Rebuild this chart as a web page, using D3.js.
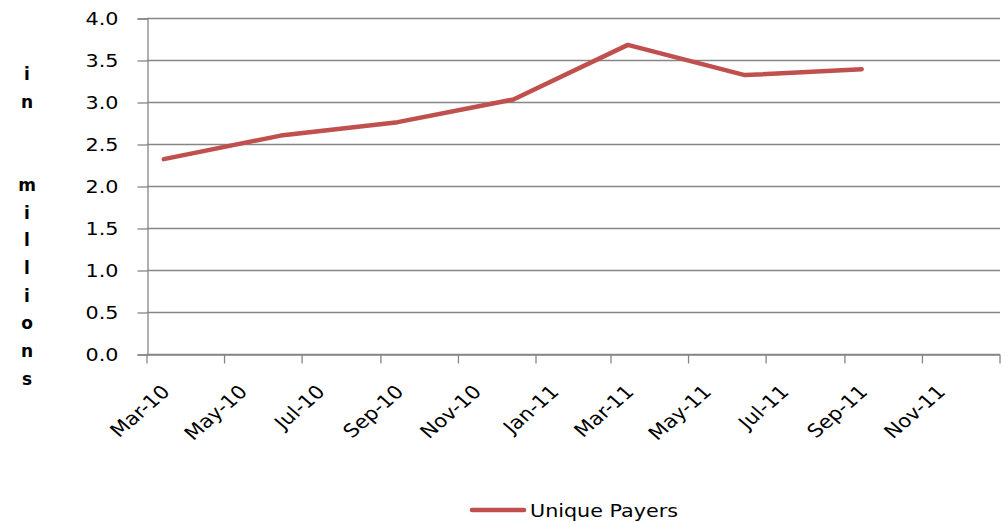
<!DOCTYPE html>
<html>
<head>
<meta charset="utf-8">
<script src="https://cdn.jsdelivr.net/npm/d3@7"></script>
<style>
  html, body { margin: 0; padding: 0; background: #fff; }
  svg { display: block; }
</style>
</head>
<body>
<svg id="chart" width="1005" height="522"></svg>
<script>
// ---- data ----
const dates = ["2010-03-15", "2010-06-15", "2010-09-15", "2010-12-15", "2011-03-15", "2011-06-15", "2011-09-15"];
const values = [2.32, 2.60, 2.76, 3.03, 3.68, 3.32, 3.39];
const seriesName = "Unique Payers";
const yTicks = [0, 0.5, 1.0, 1.5, 2.0, 2.5, 3.0, 3.5, 4.0];
const xDomain = ["2010-03-01", "2012-01-01"];
const yLabelLines = ["i", "n", "", "", "m", "i", "l", "l", "i", "o", "n", "s"];

(function () {
// ---- setup ----
const parse = d3.utcParse("%Y-%m-%d");
const fmt = d3.utcFormat("%b-%y");
const svg = d3.select("#chart");
const FONT = "'DejaVu Sans', sans-serif";
const SX = 1.15;
const axisColor = "#868686";
const lineColor = "#c0504d";

const pLeft = 147, pRight = 1000, pTop = 18, pBottom = 354;
const x = d3.scaleUtc().domain(xDomain.map(parse)).range([pLeft - 1, pRight - 1]);
const y = d3.scaleLinear().domain([0, 4]).range([pBottom, pTop]);

// gridlines
svg.append("g")
  .selectAll("line").data(yTicks).join("line")
  .attr("x1", pLeft).attr("x2", pRight)
  .attr("y1", d => Math.round(y(d)) + 0.5).attr("y2", d => Math.round(y(d)) + 0.5)
  .attr("stroke", axisColor).attr("stroke-width", 1.3);

// y axis
const yAxis = svg.append("g")
  .attr("transform", `translate(${pLeft + 0.5},0.5)`)
  .call(d3.axisLeft(y).tickValues(yTicks).tickFormat(d3.format(".1f")).tickSize(10).tickPadding(19));
yAxis.select(".domain").attr("stroke", axisColor).attr("stroke-width", 1.3);
yAxis.selectAll(".tick line").attr("stroke", axisColor).attr("stroke-width", 1.3);
yAxis.selectAll(".tick text")
  .attr("font-family", FONT).attr("font-size", 18).attr("fill", "#000")
  .attr("dy", "0.35em")
  .attr("transform", function() {
    const tx = +d3.select(this).attr("x");
    return `translate(${tx},0) scale(${SX},1) translate(${-tx},0)`;
  });

// x axis
const xTickVals = d3.utcMonth.every(2).range(parse(xDomain[0]), d3.utcDay.offset(parse(xDomain[1]), 1));
const xAxis = svg.append("g")
  .attr("transform", `translate(0.5,${pBottom + 0.5})`)
  .call(d3.axisBottom(x).tickValues(xTickVals).tickFormat("").tickSize(9).tickSizeOuter(0));
xAxis.select(".domain").attr("stroke", axisColor).attr("stroke-width", 1.3);
xAxis.selectAll(".tick line").attr("stroke", axisColor).attr("stroke-width", 1.3);
xAxis.selectAll(".tick text").remove();

svg.append("g").selectAll("text")
  .data(xTickVals.slice(0, -1)).join("text")
  .attr("transform", d => `translate(${x(d) + 25},${pBottom + 39}) scale(${SX},1) rotate(-45)`)
  .attr("text-anchor", "end")
  .attr("font-family", FONT).attr("font-size", 18.5).attr("fill", "#000")
  .text(d => fmt(d));

// y axis title (stacked letters)
const yt = svg.append("text")
  .attr("font-family", FONT).attr("font-size", 17).attr("font-weight", "bold")
  .attr("text-anchor", "middle").attr("fill", "#000");
yLabelLines.forEach((c, i) => {
  yt.append("tspan").attr("x", 27).attr("y", 80 + i * 27.7).text(c);
});

// line
const pts = dates.map((d, i) => ({ date: parse(d), value: values[i] }));
svg.append("path")
  .datum(pts)
  .attr("fill", "none")
  .attr("stroke", lineColor).attr("stroke-width", 4.5)
  .attr("stroke-linejoin", "round").attr("stroke-linecap", "round")
  .attr("d", d3.line().x(d => x(d.date)).y(d => y(d.value)));

// legend
const lg = svg.append("g");
lg.append("line").attr("x1", 472).attr("x2", 524).attr("y1", 510).attr("y2", 510)
  .attr("stroke", lineColor).attr("stroke-width", 4.5).attr("stroke-linecap", "round");
lg.append("text")
  .attr("transform", `translate(530,517) scale(${SX},1)`)
  .attr("font-family", FONT).attr("font-size", 18).attr("fill", "#000")
  .text(seriesName);
})();
</script>
</body>
</html>
